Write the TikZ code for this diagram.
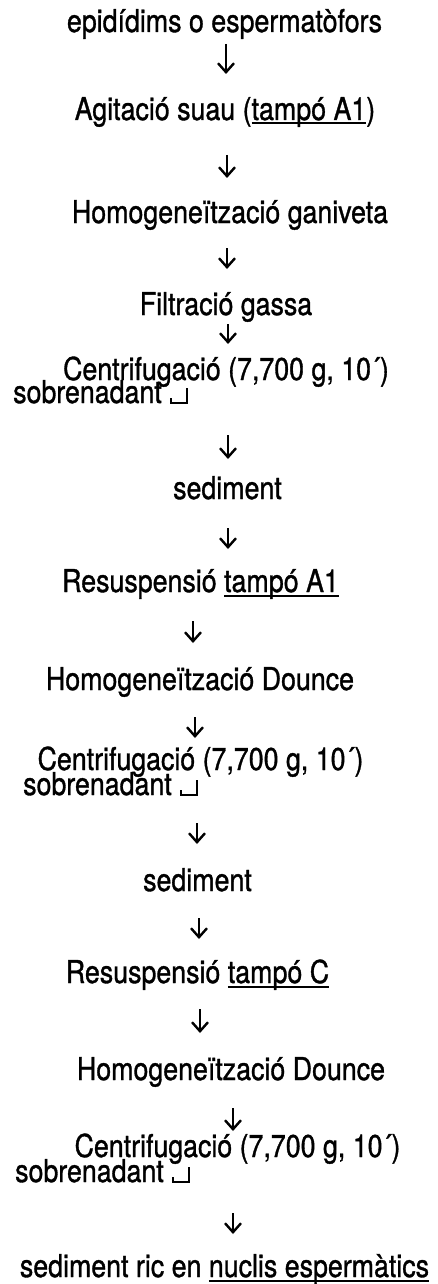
\documentclass[tikz,border=0pt]{standalone}
\usepackage{fontspec}
\usepackage{graphicx}
\setmainfont{TeX Gyre Heros}[FakeBold=1.2]
\usetikzlibrary{arrows.meta}
% underline with a fixed rule just below the baseline
\newcommand\undl[1]{\setbox0\hbox{#1}\rlap{\rule[-4.5pt]{\wd0}{2pt}}\box0}
% slightly condensed lettering
\newcommand\nar[1]{\scalebox{0.85}[1]{#1}}
\begin{document}
\begin{tikzpicture}[x=1pt,y=-1pt,
  lbl/.style={anchor=base,inner sep=0pt,font=\fontsize{31.5}{38}\selectfont},
  lft/.style={lbl,anchor=base west},
  flow/.style={line width=2.4pt,-{Straight Barb[length=9pt,width=16pt,line width=2.4pt]}},
  hookmark/.style={line width=2.8pt}]
\useasboundingbox (0,0) rectangle (437,1284);

% steps of the protocol
\node[lbl] (t1)  at (224.5,32)   {\nar{epidídims o espermatòfors}};
\node[lbl] (t2)  at (225,120)    {\nar{Agitació suau (\undl{tampó A1})}};
\node[lbl] (t3)  at (230,223)    {\nar{Homogeneïtzació ganiveta}};
\node[lbl] (t4)  at (226,315)    {\nar{Filtració gassa}};
\node[lbl] (t5)  at (226,380)    {\nar{Centrifugació (7,700 g, 10´)}};
\node[lft] (s1)  at (13,403)     {\nar{sobrenadant}};
\node[lbl] (t6)  at (227.5,499)  {\nar{sediment}};
\node[lbl] (t7)  at (200.5,592)  {\nar{Resuspensió \undl{tampó A1}}};
\node[lbl] (t8)  at (200,690)    {\nar{Homogeneïtzació Dounce}};
\node[lbl] (t9)  at (200.5,770)  {\nar{Centrifugació (7,700 g, 10´)}};
\node[lft] (s2)  at (23,795)     {\nar{sobrenadant}};
\node[lbl] (t10) at (197.5,891)  {\nar{sediment}};
\node[lbl] (t11) at (197.5,983)  {\nar{Resuspensió \undl{tampó C}}};
\node[lbl] (t12) at (231,1080)   {\nar{Homogeneïtzació Dounce}};
\node[lbl] (t13) at (237.5,1157) {\nar{Centrifugació (7,700 g, 10´)}};
\node[lft] (s3)  at (15,1182)    {\nar{sobrenadant}};
\node[lbl] (t14) at (224.5,1277) {\nar{sediment ric en \undl{nuclis espermàtics}}};

% discard marks after each supernatant
\foreach \s in {s1,s2,s3}
  \draw[hookmark] ([xshift=9pt,yshift=5pt]\s.base east) -- ++(0,5) -- ++(16,0) -- ++(0,-15);

% downward arrows between the steps
\coordinate (a1s)  at (226,44);   \coordinate (a1e)  at (226,74);
\coordinate (a2s)  at (227,155);  \coordinate (a2e)  at (227,178);
\coordinate (a3s)  at (227,248);  \coordinate (a3e)  at (227,269);
\coordinate (a4s)  at (228,324);  \coordinate (a4e)  at (228,344);
\coordinate (a5s)  at (228,435);  \coordinate (a5e)  at (228,459);
\coordinate (a6s)  at (228,528);  \coordinate (a6e)  at (228,549);
\coordinate (a7s)  at (193,621);  \coordinate (a7e)  at (193,643);
\coordinate (a8s)  at (195,717);  \coordinate (a8e)  at (195,738);
\coordinate (a9s)  at (197,823);  \coordinate (a9e)  at (197,844);
\coordinate (a10s) at (199,918);  \coordinate (a10e) at (199,939);
\coordinate (a11s) at (200,1009); \coordinate (a11e) at (200,1033);
\coordinate (a12s) at (233,1108); \coordinate (a12e) at (233,1131);
\coordinate (a13s) at (233,1213); \coordinate (a13e) at (233,1234);
\foreach \i in {1,...,13}
  \draw[flow] (a\i s) -- (a\i e);
\end{tikzpicture}
\end{document}
